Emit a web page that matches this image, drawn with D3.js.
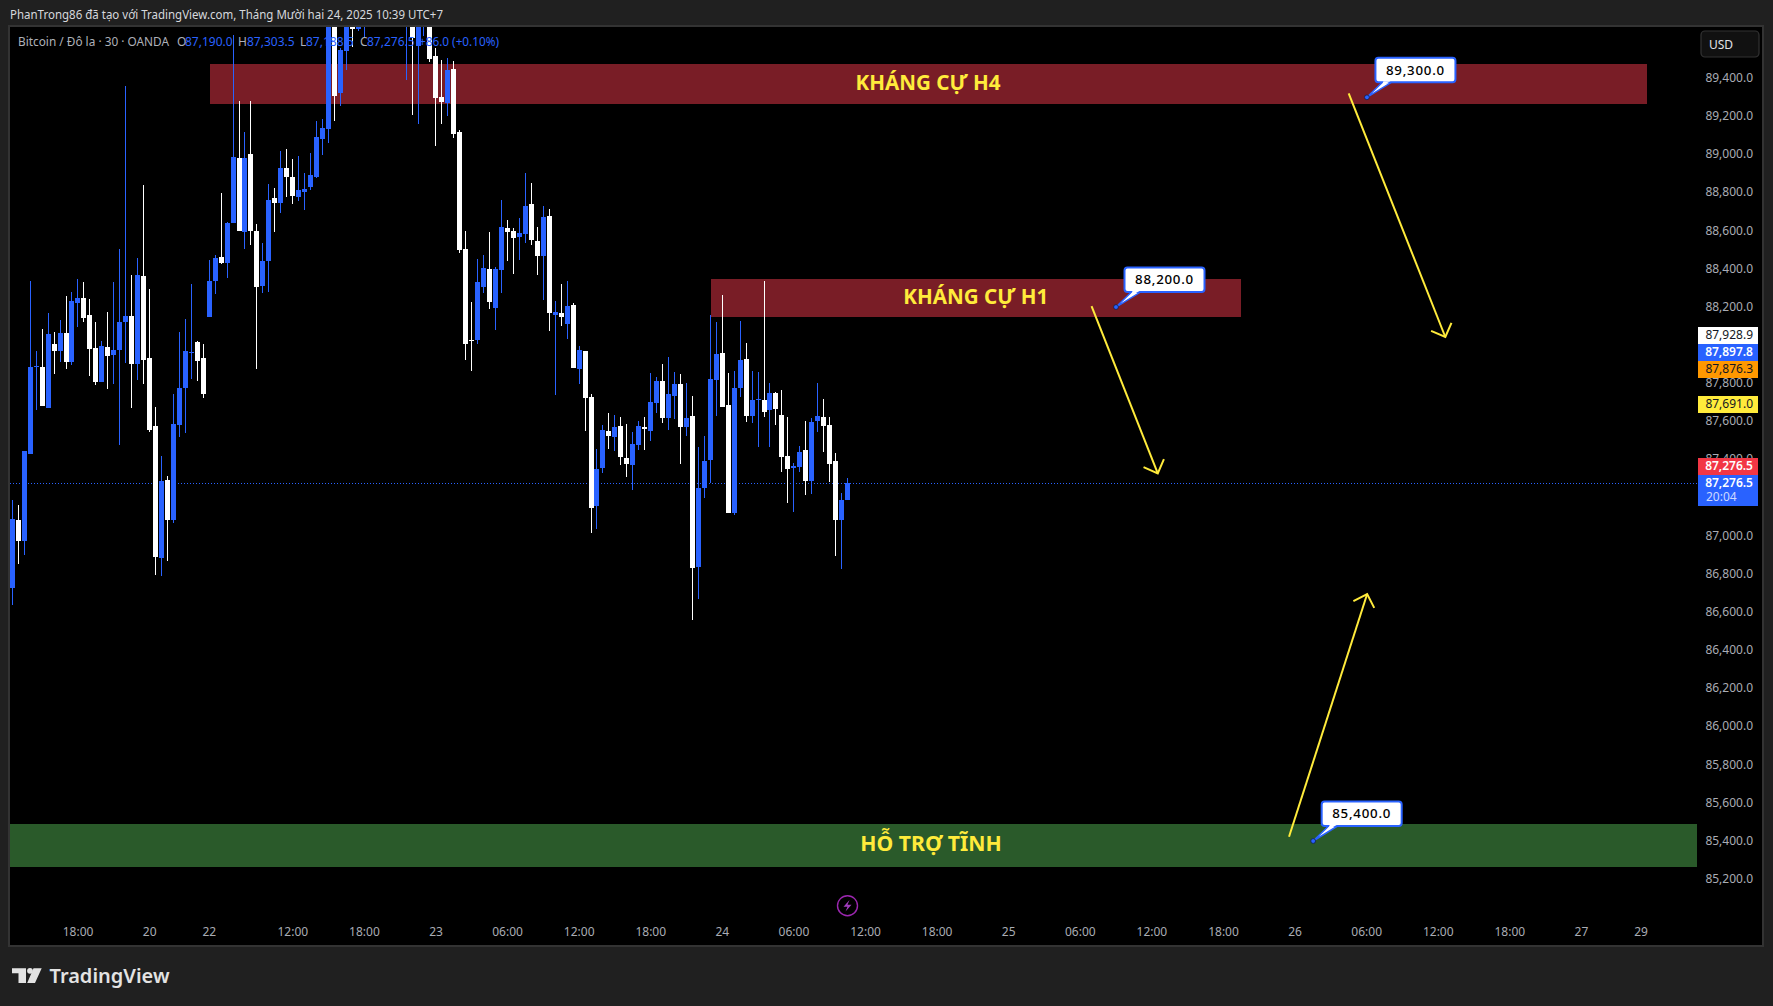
<!DOCTYPE html>
<html><head><meta charset="utf-8">
<script src="https://cdn.jsdelivr.net/npm/d3@7"></script>
<style>html,body{margin:0;padding:0;background:#202020;overflow:hidden}svg{display:block}text{font-family:"Noto Sans",sans-serif}</style>
</head><body><svg id="c" width="1773" height="1006"></svg>
<script>
const opens=[86726,87083,86973,87429,87886,87886,87670,88006,87970,88063,
87912,88221,88247,88158,87985,87807,87990,87949,87975,88121,
88153,87901,88363,87933,87576,86884,87293,87083,87581,87775,
87959,88017,87933,88148,88337,88462,88431,88640,88981,88594,
89002,88599,88310,88441,88772,88746,88929,88882,88777,88803,
88829,88882,89081,89134,89740,89322,89543,89680,89658,89700,
89800,89740,89820,89760,89830,89750,89700,89760,89569,89700,
89750,89516,89301,89270,89448,89118,88504,88027,88027,88305,
88399,88195,88394,88614,88599,88567,88583,88740,88546,88468,
88677,88158,88169,88111,88210,87875,87970,87728,87156,87356,
87550,87518,87576,87408,87371,87476,87571,87550,87697,87812,
87618,87733,87796,87571,87628,86836,87251,87398,87817,87959,
87686,87120,87775,87927,87628,87712,87712,87660,87749,87634,
87419,87356,87361,87450,87288,87602,87623,87581,87392,87083,87190];
const highs=[87188,87162,87445,88337,87970,88084,88169,88069,88132,88258,
88279,88347,88331,88242,88121,88022,88174,88331,88504,89359,
88368,88457,88840,88294,87676,87419,87314,87744,88069,88137,
88321,88022,88006,88447,88473,88798,88646,89627,89280,89118,
89280,88635,88536,88845,88824,89018,89029,88976,88992,88903,
89008,89175,89186,89780,89800,89560,89760,89760,89750,89860,
89880,89850,89900,89870,89880,89800,89810,89820,89780,89800,
89800,89558,89496,89506,89490,89128,88599,88226,88452,88473,
88594,88410,88761,88656,88614,88667,88903,88850,88619,88730,
88714,88232,88321,88337,88221,87996,87970,87744,87455,87581,
87644,87634,87623,87586,87544,87602,87623,87854,87833,87901,
87938,87859,87849,87801,87733,87466,87523,88158,88121,88263,
87854,87865,88127,88011,87865,87859,88337,87801,87754,87765,
87623,87382,87471,87602,87618,87801,87718,87623,87435,87225,87303.5];
const lows=[86638,86852,86900,87429,87660,87681,87670,87849,87912,87875,
87896,88095,88121,87838,87791,87807,87770,87796,87476,87907,
87670,87817,87796,87544,86795,86789,86868,87067,87518,87539,
87822,87812,87723,88148,88268,88426,88352,88640,88599,88504,
88525,87875,88273,88279,88594,88693,88777,88740,88756,88709,
88814,88877,88997,89060,89175,89254,89443,89564,89650,89616,
89720,89700,89730,89710,89720,89690,89391,89207,89160,89621,
89485,89045,89160,89202,89086,88483,87922,87865,88006,88273,
88190,88079,88273,88441,88373,88447,88536,88525,88368,88237,
88074,87739,88100,88032,87880,87796,87550,87015,87036,87330,
87455,87445,87371,87309,87240,87450,87450,87497,87644,87592,
87555,87613,87377,87523,86559,86669,87198,87277,87628,87676,
87120,87109,87728,87597,87592,87466,87623,87466,87581,87335,
87172,87125,87335,87214,87219,87544,87440,87282,86895,86826,87188.5];
const closes=[87088,86973,87445,87886,87891,87681,88058,87970,88063,87912,
88232,88247,88142,87980,87807,87996,87943,87975,88121,88153,
87901,88368,87922,87555,86889,87288,87083,87586,87775,87970,
87965,87917,87744,88337,88457,88431,88640,88987,88599,88981,
88599,88305,88441,88761,88746,88929,88882,88782,88814,88819,
88892,89092,89139,89720,89307,89548,89700,89658,89690,89800,
89740,89820,89760,89830,89750,89710,89770,89611,89720,89750,
89501,89296,89275,89443,89107,88499,88006,88022,88331,88405,
88226,88399,88619,88594,88562,88588,88730,88552,88468,88672,
88169,88174,88148,88205,87880,87975,87723,87146,87350,87555,
87523,87571,87414,87377,87481,87576,87560,87702,87812,87618,
87744,87796,87571,87618,86831,87251,87392,87822,87954,87676,
87120,87775,87922,87628,87712,87718,87650,87749,87665,87414,
87350,87366,87440,87288,87597,87628,87576,87377,87083,87188,87276.5];

const priceTicks=[85200,85400,85600,85800,86000,86200,86400,86600,86800,87000,87400,87600,87800,88200,88400,88600,88800,89000,89200,89400];
const timeTickBars=[11,23,33,47,59,71,83,95,107,119,131,143,155,167,179,191,203,215,227,239,251,263,273];
const timeTickLabels=["18:00","20","22","12:00","18:00","23","06:00","12:00","18:00","24","06:00","12:00","18:00","25","06:00","12:00","18:00","26","06:00","12:00","18:00","27","29"];

const zoneNames=["KHÁNG CỰ H4","KHÁNG CỰ H1","HỖ TRỢ TĨNH"];
const zoneTop=[89474,88347,85489];
const zoneBottom=[89265,88148,85263];
const zoneFrom=[33.2,117.1,-0.4];
const zoneTo=[274,206,282.4];
const zoneLabelBar=[153.5,161.5,154];
const zoneColors=["#791d26","#791d26","#2a5a2a"];

const noteBars=[227.06,185,218.05];
const notePrices=[89300,88200,85400];

const arrowFromBar=[224,180.9,214];
const arrowFromPrice=[89321,88205,85422];
const arrowToBar=[240.2,192,227.1];
const arrowToPrice=[88043,87328,86695];

const lastPrice=87276.5;
const stackedTags=["87,928.9","87,897.8","87,876.3"];
const stackedTagFill=["#ffffff","#2962ff","#ff9800"];
const stackedTagText=["#131722","#ffffff","#131722"];

const W=1773,H=1006,L=10,T=27,R=1762,B=945;
const svg=d3.select("#c");
svg.append("rect").attr("width",W).attr("height",H).attr("fill","#202020");
svg.append("rect").attr("x",L-1).attr("y",T-1).attr("width",R-L+2).attr("height",B-T+2).attr("fill","#000").attr("stroke","#333").attr("stroke-width",2);
svg.append("defs").append("clipPath").attr("id","pane").append("rect").attr("x",L).attr("y",T).attr("width",R-L).attr("height",B-T);

const x=d3.scaleLinear().domain([0,273]).range([12.33,1641]);
const y=d3.scaleLinear().domain([89668.7,84854.6]).range([T,B]);

// zones
const zoneIdx=d3.range(zoneNames.length);
const plot=svg.append("g").attr("clip-path","url(#pane)");
plot.selectAll("rect.z").data(zoneIdx).join("rect").attr("class","z")
 .attr("x",i=>x(zoneFrom[i])).attr("width",i=>x(zoneTo[i])-x(zoneFrom[i]))
 .attr("y",i=>y(zoneTop[i])).attr("height",i=>y(zoneBottom[i])-y(zoneTop[i]))
 .attr("fill",i=>zoneColors[i]).attr("shape-rendering","crispEdges");

// last price line
plot.append("line").attr("x1",L).attr("x2",1698).attr("y1",Math.round(y(lastPrice))+.5).attr("y2",Math.round(y(lastPrice))+.5)
 .attr("stroke","#2962ff").attr("stroke-dasharray","1 2");

// candles
const bars=d3.range(opens.length);
const col=i=>closes[i]>=opens[i]?"#2962ff":"#ffffff";
const cg=plot.append("g").attr("shape-rendering","crispEdges");
cg.selectAll("rect.w").data(bars).join("rect").attr("class","w")
 .attr("x",i=>Math.round(x(i)-2.5)+2).attr("width",1)
 .attr("y",i=>y(highs[i])).attr("height",i=>y(lows[i])-y(highs[i])).attr("fill",col);
cg.selectAll("rect.b").data(bars).join("rect").attr("class","b")
 .attr("x",i=>Math.round(x(i)-2.5)).attr("width",5)
 .attr("y",i=>y(Math.max(opens[i],closes[i])))
 .attr("height",i=>Math.max(1,Math.abs(y(opens[i])-y(closes[i])))).attr("fill",col);

// zone labels
svg.selectAll("text.zl").data(zoneIdx).join("text").attr("class","zl")
 .attr("x",i=>x(zoneLabelBar[i])).attr("y",i=>(y(zoneTop[i])+y(zoneBottom[i]))/2+5.6)
 .attr("text-anchor","middle").attr("font-size",i=>i==2?21.2:20.6).attr("font-weight",700).attr("fill","#ffeb3b")
 .text(i=>zoneNames[i]);

// arrows
const arrows=svg.append("g").attr("fill","none").attr("stroke","#ffeb3b").attr("stroke-width",2);
arrowFromBar.forEach((_,i)=>{
 const x0=x(arrowFromBar[i]),y0=y(arrowFromPrice[i]),x1=x(arrowToBar[i]),y1=y(arrowToPrice[i]);
 const a=Math.atan2(y1-y0,x1-x0),h=15.5,s=Math.PI/4;
 arrows.append("path").attr("d",`M${x0},${y0}L${x1},${y1}`);
 arrows.append("path").attr("d",`M${x1-h*Math.cos(a-s)},${y1-h*Math.sin(a-s)}L${x1},${y1}L${x1-h*Math.cos(a+s)},${y1-h*Math.sin(a+s)}`);
});

// price notes
const fmt=d3.format(",.1f");
const notes=svg.append("g");
noteBars.forEach((b,i)=>{
 const px=x(b),py=y(notePrices[i]);
 const bx=px+8.5,by=py-39.5,bw=80,bh=24.5;
 notes.append("path").attr("d",`M${px},${py}L${bx+7},${by+bh}L${bx+16},${by+bh}Z`).attr("fill","#fff").attr("stroke","#2962ff").attr("stroke-width",1.5);
 notes.append("rect").attr("x",bx).attr("y",by).attr("width",bw).attr("height",bh).attr("rx",3).attr("fill","#fff").attr("stroke","#2962ff").attr("stroke-width",2);
 notes.append("path").attr("d",`M${bx+8},${by+bh-1}L${bx+15},${by+bh-1}L${bx+6},${by+bh+4}Z`).attr("fill","#fff");
 notes.append("circle").attr("cx",px).attr("cy",py).attr("r",2.4).attr("fill","#2962ff").attr("stroke","#10204f").attr("stroke-width",.8);
 notes.append("text").attr("x",bx+bw/2).attr("y",by+bh/2+4.6).attr("text-anchor","middle").attr("font-size",13.3).attr("font-weight",500).attr("letter-spacing",".75").attr("fill","#000").text(fmt(notePrices[i]));
});

// axes
const yAxis=d3.axisRight(y).tickValues(priceTicks).tickFormat(fmt).tickSize(0).tickPadding(0);
const gy=svg.append("g").attr("transform","translate(1753,-0.5)").call(yAxis);
gy.select(".domain").remove();
gy.selectAll("text").attr("text-anchor","end").attr("fill","#a9acb4").attr("font-size",12).attr("font-family",'"Noto Sans",sans-serif');
const xAxis=d3.axisBottom(x).tickValues(timeTickBars).tickFormat((d,i)=>timeTickLabels[i]).tickSize(0).tickPadding(0);
const gx=svg.append("g").attr("transform","translate(-0.4,927.3)").call(xAxis);
gx.select(".domain").remove();
gx.selectAll("text").attr("fill","#a9acb4").attr("font-size",12).attr("font-family",'"Noto Sans",sans-serif');

// price tags
const TX=1698,TW=60,TH=17;
function tag(yTop,fill,color,label,bold){
 svg.append("rect").attr("x",TX).attr("y",yTop).attr("width",TW).attr("height",TH).attr("fill",fill);
 svg.append("text").attr("x",1753).attr("y",yTop+12.2).attr("text-anchor","end").attr("font-size",12).attr("font-weight",bold?600:400).attr("fill",color).text(label);
}
const orangeTop=Math.round(y(87876.3))-8;
stackedTags.forEach((t,i)=>tag(orangeTop-(2-i)*TH,stackedTagFill[i],stackedTagText[i],t,i==1));
tag(Math.round(y(87691))-8,"#ffeb3b","#131722","87,691.0");
const lastTop=Math.round(y(lastPrice))-8;
tag(lastTop-TH,"#f23645","#ffffff",fmt(lastPrice),true);
svg.append("rect").attr("x",TX).attr("y",lastTop).attr("width",TW).attr("height",31).attr("fill","#2962ff");
svg.append("text").attr("x",1753).attr("y",lastTop+12).attr("text-anchor","end").attr("font-size",12).attr("font-weight",600).attr("fill","#fff").text(fmt(lastPrice));
svg.append("text").attr("x",1706).attr("y",lastTop+26).attr("font-size",12).attr("fill","#cdd9ff").text("20:04");

// USD button
svg.append("rect").attr("x",1701).attr("y",31).attr("width",58).attr("height",26).attr("rx",4).attr("fill","#111").attr("stroke","#333").attr("stroke-width",1.2);
svg.append("text").attr("x",1709).attr("y",48.5).attr("font-size",12).attr("fill","#e2e3e6").text("USD");

// header + legend
svg.append("text").attr("x",10).attr("y",19).attr("font-size",12).attr("fill","#d6d8dd").attr("textLength",433).attr("lengthAdjust","spacingAndGlyphs").text("PhanTrong86 đã tạo với TradingView.com, Tháng Mười hai 24, 2025 10:39 UTC+7");
const lg=[[18,"Bitcoin / Đô la · 30 · OANDA","#aeb1b9",151],[177,"O","#aeb1b9"],[185,"87,190.0","#2962ff"],[238,"H","#aeb1b9"],[247,"87,303.5","#2962ff"],[300,"L","#aeb1b9"],[306,"87,188.5","#2962ff"],[360,"C","#aeb1b9"],[367,"87,276.5","#2962ff"],[419,"+86.0 (+0.10%)","#2962ff",80]];
lg.forEach(d=>{const t=svg.append("text").attr("x",d[0]).attr("y",46).attr("font-size",12).attr("fill",d[2]).text(d[1]); if(d[3])t.attr("textLength",d[3]).attr("lengthAdjust","spacingAndGlyphs");});

// lightning icon
svg.append("circle").attr("cx",847.5).attr("cy",905.7).attr("r",10).attr("fill","none").attr("stroke","#9c27b0").attr("stroke-width",1.4);
svg.append("path").attr("d","M849.5,900L843.5,906.7H847.5L845.5,911.5L851.5,904.7H847.5Z").attr("fill","#a13dbd");

// logo
svg.append("path").attr("fill","#e3e3e3").attr("d","M12,968.3H26V983H18.5V973.2H12Z M33.5,968.3H41.7L35,983H27.2Z");
svg.append("circle").attr("cx",30).attr("cy",970.8).attr("r",2.9).attr("fill","#e3e3e3");
svg.append("text").attr("x",49.5).attr("y",983).attr("font-family","Inter").attr("font-size",20).attr("font-weight",600).attr("fill","#e3e3e3").attr("textLength",120).attr("lengthAdjust","spacingAndGlyphs").text("TradingView");
</script></body></html>
